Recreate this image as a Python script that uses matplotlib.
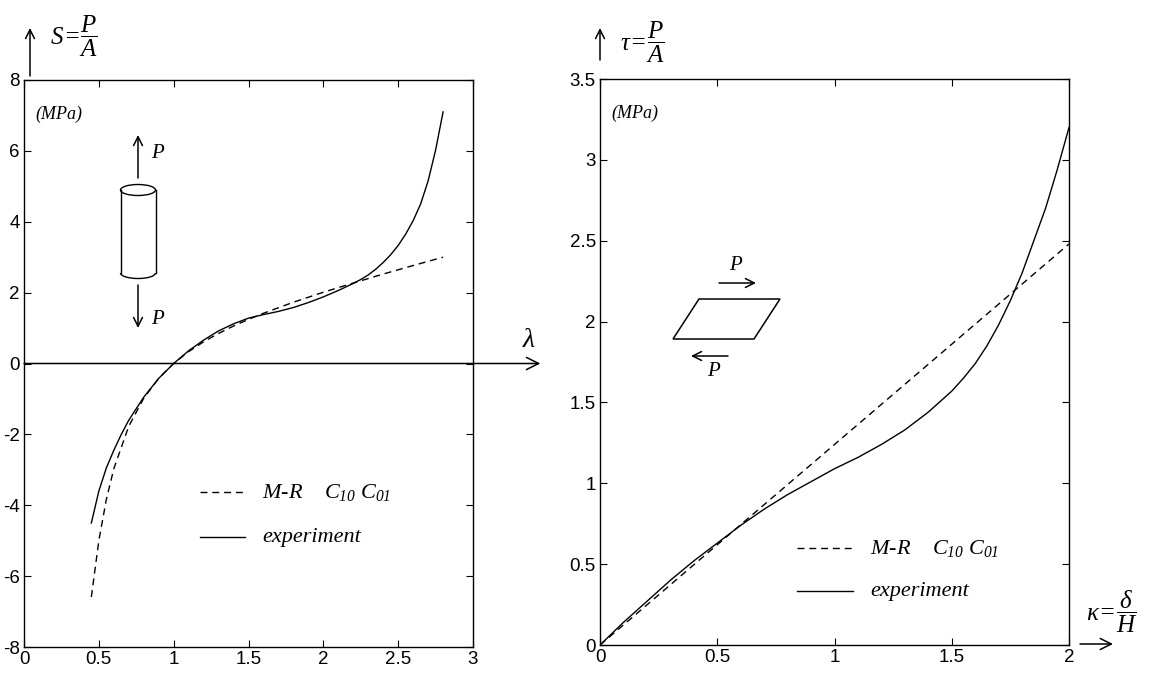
import matplotlib
matplotlib.use("Agg")
import matplotlib.pyplot as plt
from matplotlib.patches import Ellipse, Arc, Polygon

plt.rcParams['font.family'] = ['Liberation Sans', 'DejaVu Sans']
plt.rcParams['axes.unicode_minus'] = False
plt.rcParams['mathtext.fontset'] = 'custom'
plt.rcParams['mathtext.it'] = 'Liberation Serif:italic'
plt.rcParams['mathtext.rm'] = 'Liberation Serif:italic'
plt.rcParams['mathtext.cal'] = 'Liberation Serif:italic'

# --- uniaxial tension/compression: stretch vs nominal stress (MPa)
lam_exp = [0.45, 0.5, 0.55, 0.6, 0.65, 0.7, 0.8, 0.9, 1.0, 1.1, 1.2, 1.3, 1.4,
           1.5, 1.6, 1.7, 1.8, 1.9, 2.0, 2.1, 2.2, 2.25, 2.3, 2.35, 2.4, 2.45,
           2.5, 2.55, 2.6, 2.65, 2.7, 2.75, 2.8]
s_exp = [-4.5, -3.6, -2.95, -2.45, -2.0, -1.6, -0.95, -0.42, 0.0, 0.36, 0.66,
         0.92, 1.12, 1.28, 1.38, 1.47, 1.58, 1.72, 1.88, 2.06, 2.26, 2.37,
         2.5, 2.66, 2.85, 3.07, 3.33, 3.65, 4.03, 4.5, 5.15, 6.02, 7.1]
lam_mr = [0.45, 0.5, 0.55, 0.6, 0.7, 0.8, 0.9, 1.0, 1.1, 1.2, 1.3, 1.4, 1.5,
          1.6, 1.8, 2.0, 2.2, 2.4, 2.6, 2.8]
s_mr = [-6.59, -5.0, -3.84, -2.97, -1.77, -0.98, -0.42, 0.0, 0.335, 0.612,
        0.849, 1.058, 1.246, 1.418, 1.729, 2.011, 2.27, 2.524, 2.765, 3.0]

# --- simple shear: shear strain vs shear stress (MPa)
kap_exp = [0.0, 0.1, 0.2, 0.3, 0.4, 0.5, 0.6, 0.7, 0.8, 0.9, 1.0, 1.1, 1.2,
           1.3, 1.4, 1.5, 1.55, 1.6, 1.65, 1.7, 1.75, 1.8, 1.85, 1.9, 1.95,
           2.0]
tau_exp = [0.0, 0.14, 0.27, 0.40, 0.52, 0.63, 0.74, 0.84, 0.93, 1.01, 1.09,
           1.16, 1.24, 1.33, 1.44, 1.57, 1.65, 1.74, 1.85, 1.98, 2.13, 2.3,
           2.5, 2.7, 2.94, 3.2]
kap_mr = [0.0, 0.5, 1.0, 1.5, 2.0]
tau_mr = [0.0, 0.62, 1.24, 1.86, 2.48]

left_xticks = [0, 0.5, 1, 1.5, 2, 2.5, 3]
left_xlabels = ['0', '0.5', '1', '1.5', '2', '2.5', '3']
left_yticks = [-8, -6, -4, -2, 0, 2, 4, 6, 8]
right_xticks = [0, 0.5, 1, 1.5, 2]
right_xlabels = ['0', '0.5', '1', '1.5', '2']
right_yticks = [0, 0.5, 1, 1.5, 2, 2.5, 3, 3.5]
right_ylabels = ['0', '0.5', '1', '1.5', '2', '2.5', '3', '3.5']

W, H = 1150, 675
fig = plt.figure(figsize=(W / 100, H / 100), dpi=100)

ax1 = fig.add_axes([24 / W, 1 - 647 / H, 449 / W, 567 / H])
ax2 = fig.add_axes([600 / W, 1 - 645 / H, 469 / W, 566 / H])

dash = (0, (5, 3.5))
serif_it = dict(family='Liberation Serif', style='italic')

for ax in (ax1, ax2):
    ax.tick_params(direction='in', top=True, right=True, length=5,
                   width=0.8, labelsize=13.5, pad=3)
    for sp in ax.spines.values():
        sp.set_linewidth(1.0)

# left panel
ax1.plot(lam_exp, s_exp, color='black', lw=1.0)
ax1.plot(lam_mr, s_mr, color='black', lw=1.0, linestyle=dash)
ax1.set_xlim(0, 3)
ax1.set_ylim(-8, 8)
ax1.set_xticks(left_xticks)
ax1.set_xticklabels(left_xlabels)
ax1.set_yticks(left_yticks)
ax1.annotate('', xy=(3.45, 0), xytext=(0, 0), annotation_clip=False,
             arrowprops=dict(arrowstyle='->', color='black', lw=1.1,
                             shrinkA=0, shrinkB=0, mutation_scale=22))
ax1.text(0.025, 0.955, '(MPa)', transform=ax1.transAxes, fontsize=13,
         va='top', ha='left', **serif_it)

ax1.plot([0.392, 0.492], [0.273, 0.273], transform=ax1.transAxes,
         color='black', lw=1.0, linestyle=dash)
ax1.plot([0.392, 0.492], [0.194, 0.194], transform=ax1.transAxes,
         color='black', lw=1.0)
ax1.text(0.53, 0.273, 'M-R    $C_{10}\\ C_{01}$', transform=ax1.transAxes,
         fontsize=16, va='center', ha='left', **serif_it)
ax1.text(0.53, 0.194, 'experiment', transform=ax1.transAxes,
         fontsize=16, va='center', ha='left', **serif_it)

# right panel
ax2.plot(kap_exp, tau_exp, color='black', lw=1.0)
ax2.plot(kap_mr, tau_mr, color='black', lw=1.0, linestyle=dash)
ax2.set_xlim(0, 2)
ax2.set_ylim(0, 3.5)
ax2.set_xticks(right_xticks)
ax2.set_xticklabels(right_xlabels)
ax2.set_yticks(right_yticks)
ax2.set_yticklabels(right_ylabels)
ax2.text(0.025, 0.955, '(MPa)', transform=ax2.transAxes, fontsize=13,
         va='top', ha='left', **serif_it)

ax2.plot([0.42, 0.539], [0.171, 0.171], transform=ax2.transAxes,
         color='black', lw=1.0, linestyle=dash)
ax2.plot([0.42, 0.539], [0.095, 0.095], transform=ax2.transAxes,
         color='black', lw=1.0)
ax2.text(0.576, 0.171, 'M-R    $C_{10}\\ C_{01}$', transform=ax2.transAxes,
         fontsize=16, va='center', ha='left', **serif_it)
ax2.text(0.576, 0.095, 'experiment', transform=ax2.transAxes,
         fontsize=16, va='center', ha='left', **serif_it)

# overlay in pixel units for axis arrows, symbols and sketches
ov = fig.add_axes([0, 0, 1, 1])
ov.set_xlim(0, W)
ov.set_ylim(H, 0)
ov.axis('off')
ov.patch.set_alpha(0)

arr = dict(arrowstyle='->', color='black', lw=1.1, shrinkA=0, shrinkB=0,
           mutation_scale=16)
# vertical axis arrows
ov.annotate('', xy=(30, 28), xytext=(30, 76), arrowprops=arr)
ov.annotate('', xy=(600, 28), xytext=(600, 60), arrowprops=arr)
ov.text(50, 36, r'$S\!=\!\dfrac{P}{A}$', fontsize=18, va='center', ha='left')
ov.text(620, 42, r'$\tau\!=\!\dfrac{P}{A}$', fontsize=18, va='center',
        ha='left')
ov.text(522, 340, r'$\lambda$', fontsize=20, va='center', ha='left')
# horizontal strain arrow on the right panel
ov.annotate('', xy=(1113, 644), xytext=(1080, 644),
            arrowprops=dict(arr, mutation_scale=20))
ov.text(1086, 612, r'$\kappa\!=\!\dfrac{\delta}{H}$', fontsize=18,
        va='center', ha='left')

# cylinder under axial load
cx, top, bot, wid = 138, 190, 273, 35
ov.add_patch(Ellipse((cx, top), wid, 11, fill=False, lw=1.0, color='black'))
ov.plot([cx - wid / 2, cx - wid / 2], [top, bot], color='black', lw=1.0)
ov.plot([cx + wid / 2, cx + wid / 2], [top, bot], color='black', lw=1.0)
ov.add_patch(Arc((cx, bot), wid, 11, theta1=0, theta2=180, lw=1.0,
                 color='black'))
ov.annotate('', xy=(cx, 135), xytext=(cx, 178), arrowprops=arr)
ov.annotate('', xy=(cx, 328), xytext=(cx, 285), arrowprops=arr)
ov.text(151, 153, 'P', fontsize=15, va='center', ha='left', **serif_it)
ov.text(151, 320, 'P', fontsize=15, va='center', ha='left', **serif_it)

# sheared block
ov.add_patch(Polygon([(699, 299), (780, 299), (754, 339), (673, 339)],
                     closed=True, fill=False, lw=1.1, color='black'))
ov.annotate('', xy=(756, 283), xytext=(719, 283), arrowprops=arr)
ov.annotate('', xy=(691, 356), xytext=(728, 356), arrowprops=arr)
ov.text(735, 266, 'P', fontsize=15, va='center', ha='center', **serif_it)
ov.text(713, 372, 'P', fontsize=15, va='center', ha='center', **serif_it)

fig.savefig('out.png', dpi=100)
